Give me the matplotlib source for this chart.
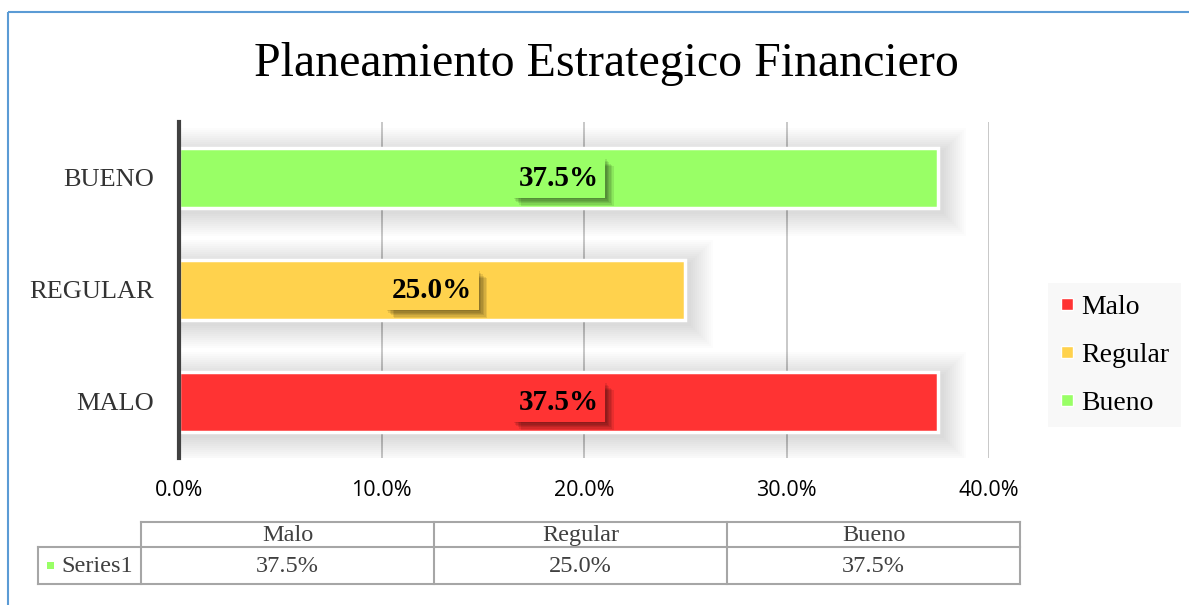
import matplotlib
matplotlib.use("Agg")
import matplotlib.pyplot as plt
from matplotlib.patches import Rectangle
from matplotlib.lines import Line2D
import matplotlib.patheffects as pe

categories = ["MALO", "REGULAR", "BUENO"]
series_names = ["Malo", "Regular", "Bueno"]
values = [37.5, 25.0, 37.5]
colors = ["#FF3333", "#FFD24D", "#99FF66"]
xticks = [0, 10, 20, 30, 40]
title = "Planeamiento Estrategico Financiero"
series_label = "Series1"

W, H = 1189, 605
fig = plt.figure(figsize=(W / 100, H / 100), dpi=100)
fig.patch.set_facecolor("white")

serif = "Liberation Serif"
sans = "Open Sans"

# Overlay for border, table
ov = fig.add_axes([0, 0, 1, 1])
ov.set_xlim(0, W)
ov.set_ylim(H, 0)
ov.axis("off")
ov.add_patch(Rectangle((8, 12), 1200, 620, fill=False, edgecolor="#5B9BD5", lw=1.5))

# Main axes
x0, x1, y0, y1 = 179, 989, 122, 458
ax = fig.add_axes([x0 / W, 1 - y1 / H, (x1 - x0) / W, (y1 - y0) / H])
ax.set_xlim(0, 40)
ax.set_ylim(-0.5, 2.5)
pxx = 40 / (x1 - x0)
pxy = 3 / (y1 - y0)
bh = 0.54

# glow/shadow
for i, (v, c) in enumerate(zip(values, colors)):
    for k in range(12):
        pad = 2 + k * 2.0
        ax.add_patch(Rectangle((0 - pad * pxx + 4 * pxx, i - bh / 2 - pad * pxy - 4 * pxy),
                               v + 2 * pad * pxx, bh + 2 * pad * pxy,
                               facecolor="#000000", alpha=0.01, lw=0, zorder=1))

ax.barh(range(len(categories)), values, height=bh, color=colors,
        edgecolor="white", linewidth=2.5, zorder=3)

shadow_fx = [pe.withSimplePatchShadow(offset=(d, -d), shadow_rgbFace="#000000", alpha=0.09)
             for d in (1, 2, 3, 4, 5, 6)] + [pe.Normal()]
for i, (v, c) in enumerate(zip(values, colors)):
    t = ax.text(v / 2, i, f"{v:.1f}%", ha="center", va="center",
                fontfamily=serif, fontweight="bold", fontsize=21, zorder=5,
                bbox=dict(boxstyle="square,pad=0.22", facecolor=c, edgecolor="none"))
    t.get_bbox_patch().set_path_effects(shadow_fx)

ax.set_xticks(xticks)
ax.set_xticklabels([f"{t:.1f}%" for t in xticks], fontfamily=sans, fontsize=15.5)
ax.set_yticks(range(len(categories)))
ax.set_yticklabels(categories, fontfamily=serif, fontsize=19, color="#333333")
ax.tick_params(axis="both", length=0)
ax.tick_params(axis="x", pad=16)
ax.tick_params(axis="y", pad=18)
ax.grid(axis="x", color="#BFBFBF", lw=1.2, zorder=0)
ax.set_axisbelow(True)
for s in ["top", "right", "bottom"]:
    ax.spines[s].set_visible(False)
ax.spines["left"].set_color("#404040")
ax.spines["left"].set_linewidth(3)
ax.spines["left"].set_zorder(6)

fig.text(606 / W, 1 - 64 / H, title, ha="center", va="center",
         fontfamily=serif, fontsize=34.5, color="#000000")

# Legend
handles = [Line2D([], [], marker="s", ls="none", markersize=8, markerfacecolor=c,
                  markeredgecolor="white", markeredgewidth=1) for c in colors]
leg = fig.legend(handles, series_names, loc="upper left",
                 bbox_to_anchor=(1048 / W, 1 - 283 / H), frameon=True,
                 prop={"family": serif, "size": 20}, handlelength=0.6,
                 handletextpad=0.2, labelspacing=0.82, borderpad=0.4,
                 borderaxespad=0, fancybox=False)
leg.get_frame().set_facecolor("#F7F7F7")
leg.get_frame().set_edgecolor("none")

# Data table
gc = "#A6A6A6"
cols = [141, 434, 727, 1020]
r0, r1, r2 = 522, 547, 584
lab_x = 38
ov.plot([cols[0], cols[-1]], [r0, r0], color=gc, lw=1.5)
ov.plot([lab_x, cols[-1]], [r1, r1], color=gc, lw=1.5)
ov.plot([lab_x, cols[-1]], [r2, r2], color=gc, lw=1.5)
for cx in cols:
    ov.plot([cx, cx], [r0, r2], color=gc, lw=1.5)
ov.plot([lab_x, lab_x], [r1, r2], color=gc, lw=1.5)
for j, (nm, v) in enumerate(zip(series_names, values)):
    cxm = (cols[j] + cols[j + 1]) / 2
    ov.text(cxm, (r0 + r1) / 2 + 1, nm, ha="center", va="center",
            fontfamily=serif, fontsize=17.5, color="#404040")
    ov.text(cxm, (r1 + r2) / 2 + 1, f"{v:.1f}%", ha="center", va="center",
            fontfamily=serif, fontsize=17.5, color="#404040")
ov.add_patch(Rectangle((47, 562), 7, 7, facecolor=colors[2], edgecolor="none"))
ov.text(61, (r1 + r2) / 2 + 1, series_label, ha="left", va="center",
        fontfamily=serif, fontsize=17.5, color="#404040")

fig.savefig("out.png", dpi=100)
